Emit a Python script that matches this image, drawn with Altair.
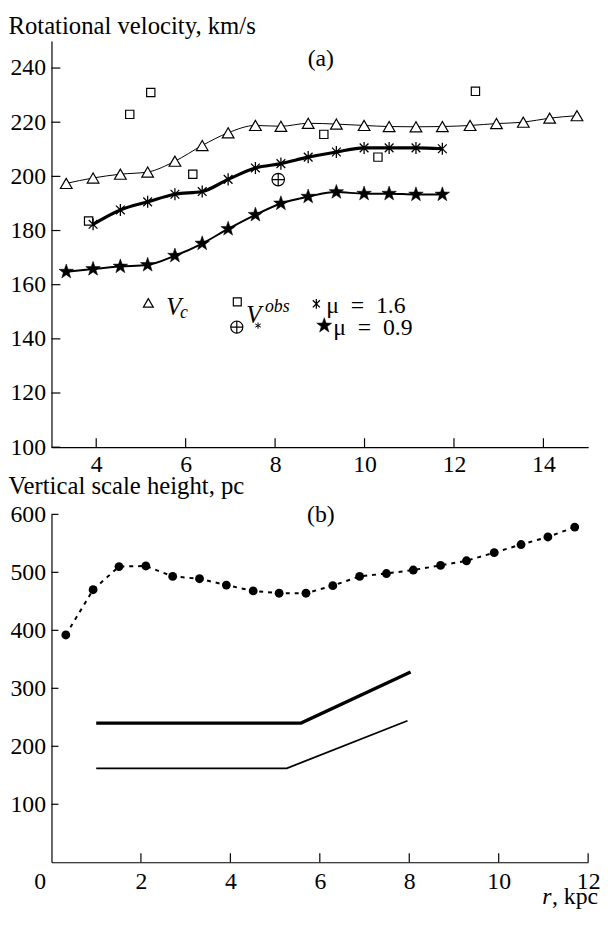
import altair as alt
import pandas as pd

FONT = "Liberation Serif"

# ---------------- panel (a): rotational velocity ----------------
r_vc = [3.33, 3.93, 4.54, 5.15, 5.76, 6.37, 6.95, 7.56, 8.13, 8.74,
        9.37, 9.99, 10.55, 11.15, 11.74, 12.36, 12.95, 13.55, 14.14, 14.75]
v_c = [197.4, 199.4, 200.8, 201.6, 205.6, 211.4, 216.1, 218.8, 218.5, 219.6,
       219.3, 218.8, 218.4, 218.3, 218.4, 218.8, 219.5, 220.0, 221.5, 222.4]

r_mu16 = [3.93, 4.54, 5.15, 5.76, 6.37, 6.95, 7.56, 8.13, 8.74,
          9.37, 9.99, 10.55, 11.15, 11.74]
v_mu16 = [182.3, 187.6, 190.6, 193.4, 194.4, 198.9, 203.1, 204.7, 207.1,
          209.0, 210.5, 210.5, 210.5, 210.2]

r_mu09 = [3.33, 3.93, 4.54, 5.15, 5.76, 6.37, 6.95, 7.56, 8.13, 8.74,
          9.37, 9.99, 10.55, 11.15, 11.74]
v_mu09 = [164.8, 165.8, 166.7, 167.3, 170.7, 175.2, 180.6, 185.8, 190.0, 192.5,
          194.2, 193.6, 193.6, 193.3, 193.3]

r_obs = [3.83, 4.75, 5.22, 6.16, 9.09, 10.30, 12.48]
v_obs = [183.5, 222.9, 231.0, 200.8, 215.5, 207.1, 231.4]

r_vstar = [8.07]
v_vstar = [198.8]

ticks_a_x = [4, 6, 8, 10, 12, 14]
ticks_a_y = [100, 120, 140, 160, 180, 200, 220, 240]

# ---------------- panel (b): vertical scale height ----------------
r_h = [0.32, 0.93, 1.51, 2.11, 2.71, 3.31, 3.91, 4.51, 5.09, 5.69,
       6.29, 6.89, 7.49, 8.09, 8.70, 9.28, 9.90, 10.50, 11.10, 11.70]
h_dots = [392, 470, 510, 511, 493, 489, 478, 468, 464, 464,
          477, 493, 498, 504, 512, 520, 534, 548, 561, 578]

r_thick = [1.0, 5.58, 8.03]
h_thick = [240, 240, 328]
r_thin = [1.0, 5.26, 7.96]
h_thin = [162, 162, 244]

ticks_b_x = [0, 2, 4, 6, 8, 10, 12]
ticks_b_y = [100, 200, 300, 400, 500, 600]

W = 543
HA = 411
HB = 352

STAR = ("M0,-1L0.235,-0.324L0.951,-0.309L0.380,0.124L0.588,0.809L0,0.4"
        "L-0.588,0.809L-0.380,0.124L-0.951,-0.309L-0.235,-0.324Z")
ASTER = "M0,-1L0,1M-0.72,-0.72L0.72,0.72M-0.72,0.72L0.72,-0.72"
ASTER6 = "M0,-1L0,1M-0.87,-0.5L0.87,0.5M-0.87,0.5L0.87,-0.5"
OPLUS = "M-1,0A1,1 0 1,1 1,0A1,1 0 1,1 -1,0ZM-1,0L1,0M0,-1L0,1"


def df(x, y):
    return pd.DataFrame({"r": x, "v": y})


def xdf(vals):
    return pd.DataFrame({"r": vals})


def ydf(vals):
    return pd.DataFrame({"v": vals})


def txt(s, x, y, size=24, style="normal", align="left", baseline="alphabetic"):
    return alt.Chart(pd.DataFrame({"s": [s]})).mark_text(
        font=FONT, fontSize=size, fontStyle=style, align=align,
        baseline=baseline, color="black"
    ).encode(x=alt.value(x), y=alt.value(y), text="s:N")


def sym(shape, x, y, size, fill="white", sw=1.2):
    return alt.Chart(pd.DataFrame({"k": [0]})).mark_point(
        shape=shape, size=size, filled=True, fill=fill, stroke="black",
        strokeWidth=sw, opacity=1
    ).encode(x=alt.value(x), y=alt.value(y))


# ---------- panel (a) ----------
xa = alt.Scale(domain=[3, 15], nice=False, zero=False)
ya = alt.Scale(domain=[100, 250], nice=False, zero=False)
XA = alt.X("r:Q", scale=xa, axis=alt.Axis(values=ticks_a_x, title=None,
                                          labelPadding=6, labelFlush=False))
YA = alt.Y("v:Q", scale=ya, axis=alt.Axis(
    values=ticks_a_y, title="Rotational velocity, km/s", titleAngle=0,
    titleAlign="left", titleBaseline="alphabetic", titleX=-44, titleY=-8,
    labelPadding=6))

EN = "\u2002"

a_layers = [
    alt.Chart(df(r_vc, v_c)).mark_line(color="black", strokeWidth=1,
                                       interpolate="monotone").encode(x=XA, y=YA),
    alt.Chart(xdf(ticks_a_x)).mark_rule(color="black", strokeWidth=1.2).encode(
        x=XA, y=alt.value(HA), y2=alt.value(HA - 9)),
    alt.Chart(ydf(ticks_a_y)).mark_rule(color="black", strokeWidth=1.2).encode(
        y=YA, x=alt.value(0), x2=alt.value(9)),
    alt.Chart(df(r_vc, v_c)).mark_point(shape="triangle-up", size=140, filled=True,
                                        fill="white", stroke="black", strokeWidth=1.2,
                                        opacity=1).encode(x=XA, y=YA),
    alt.Chart(df(r_obs, v_obs)).mark_point(shape="square", size=70, filled=True,
                                           fill="white", stroke="black", strokeWidth=1.2,
                                           opacity=1).encode(x=XA, y=YA),
    alt.Chart(df(r_vstar, v_vstar)).mark_point(shape=OPLUS, size=160, filled=True,
                                               fill="white", stroke="black",
                                               strokeWidth=1.2, opacity=1).encode(x=XA, y=YA),
    alt.Chart(df(r_mu16, v_mu16)).mark_line(color="black", strokeWidth=3.2,
                                            interpolate="monotone").encode(x=XA, y=YA),
    alt.Chart(df(r_mu16, v_mu16)).mark_point(shape=ASTER, size=150, filled=False,
                                             stroke="black", strokeWidth=1.3,
                                             opacity=1).encode(x=XA, y=YA),
    alt.Chart(df(r_mu09, v_mu09)).mark_line(color="black", strokeWidth=2,
                                            interpolate="monotone").encode(x=XA, y=YA),
    alt.Chart(df(r_mu09, v_mu09)).mark_point(shape=STAR, size=240, filled=True,
                                             fill="black", stroke="black", strokeWidth=0.5,
                                             opacity=1).encode(x=XA, y=YA),
    # panel label
    txt("(a)", 272.5, 25, size=24, align="center"),
    # legend
    sym("triangle-up", 98, 265, 100),
    txt("V", 116, 277, size=25, style="italic"),
    txt("c", 130, 280, size=18, style="italic"),
    sym("square", 188, 264, 64),
    sym(OPLUS, 187.5, 289.5, 150),
    txt("V", 197, 285, size=25, style="italic"),
    txt("obs", 216, 274, size=18, style="italic"),
    sym(ASTER6, 209, 288, 40, fill="none", sw=1),
    sym(ASTER, 268, 266, 100, fill="none", sw=1.3),
    txt("\u03bc" + EN + "=" + EN + "1.6", 278, 275, size=24),
    sym(STAR, 276, 288, 256, fill="black", sw=0.5),
    txt("\u03bc" + EN + "=" + EN + "0.9", 285, 298, size=24),
]
panel_a = alt.layer(*a_layers).properties(width=W, height=HA)

# ---------- panel (b) ----------
xb = alt.Scale(domain=[0, 12], nice=False, zero=False)
yb = alt.Scale(domain=[0, 600], nice=False, zero=False)
XB = alt.X("r:Q", scale=xb, axis=alt.Axis(
    values=ticks_b_x, title=None, labelPadding=8, labelFlush=False,
    labelOffset={"condition": {"test": "datum.value === 0", "value": -12}, "value": 0}))
YB = alt.Y("v:Q", scale=yb, axis=alt.Axis(
    values=ticks_b_y, title="Vertical scale height, pc", titleAngle=0,
    titleAlign="left", titleBaseline="alphabetic", titleX=-44, titleY=-21,
    labelPadding=6))

b_layers = [
    alt.Chart(df(r_h, h_dots)).mark_line(color="black", strokeWidth=2,
                                         strokeDash=[4, 5]).encode(x=XB, y=YB),
    alt.Chart(xdf(ticks_b_x[1:])).mark_rule(color="black", strokeWidth=1.2).encode(
        x=XB, y=alt.value(HB), y2=alt.value(HB - 9)),
    alt.Chart(ydf(ticks_b_y)).mark_rule(color="black", strokeWidth=1.2).encode(
        y=YB, x=alt.value(0), x2=alt.value(7)),
    alt.Chart(df(r_h, h_dots)).mark_circle(size=80, color="black",
                                           opacity=1).encode(x=XB, y=YB),
    alt.Chart(df(r_thick, h_thick)).mark_line(color="black",
                                              strokeWidth=3.4).encode(x=XB, y=YB),
    alt.Chart(df(r_thin, h_thin)).mark_line(color="black",
                                            strokeWidth=1.8).encode(x=XB, y=YB),
    txt("(b)", 272.5, 8, size=24, align="center"),
    txt(", kpc", 553, 394, size=24, align="right"),
    txt("r", 506, 394, size=24, style="italic", align="right"),
]
panel_b = alt.layer(*b_layers).properties(width=W, height=HB)

chart = alt.vconcat(panel_a, panel_b, spacing=68, bounds="flush").properties(
    padding=0
).configure_view(stroke=None).configure_axis(
    domainColor="black", domainWidth=1.2, ticks=False, tickSize=0, grid=False,
    labelFont=FONT, labelFontSize=24, labelColor="black",
    titleFont=FONT, titleFontSize=25, titleFontWeight="normal", titleColor="black"
)

chart.save("out.html", embed_options={"renderer": "svg", "actions": False})
